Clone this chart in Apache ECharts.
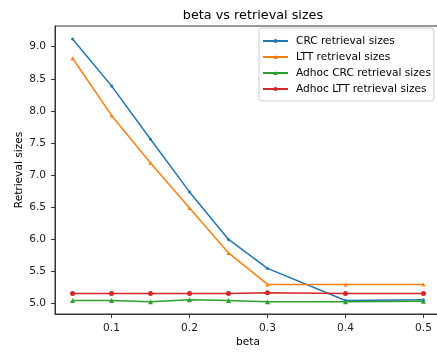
<!DOCTYPE html>
<html>
<head>
<meta charset="utf-8">
<script src="https://cdn.jsdelivr.net/npm/echarts@6/dist/echarts.min.js"></script>
<style>
html,body{margin:0;padding:0;background:#fff;overflow:hidden;width:437px;height:353px;}
#chart{width:445px;height:353px;}
</style>
</head>
<body>
<div id="chart"></div>
<script>
const betas = [0.05, 0.1, 0.15, 0.2, 0.25, 0.3, 0.4, 0.5];
const crcSizes = [9.12, 8.39, 7.56, 6.74, 6.00, 5.55, 5.05, 5.06];
const lttSizes = [8.82, 7.93, 7.19, 6.49, 5.79, 5.30, 5.30, 5.30];
const adhocCrcSizes = [5.05, 5.05, 5.03, 5.06, 5.05, 5.03, 5.03, 5.04];
const adhocLttSizes = [5.16, 5.16, 5.16, 5.16, 5.16, 5.17, 5.16, 5.16];
const xTicks = [0.1, 0.2, 0.3, 0.4, 0.5];
const yTicks = [5.0, 5.5, 6.0, 6.5, 7.0, 7.5, 8.0, 8.5, 9.0];
const seriesNames = ['CRC retrieval sizes', 'LTT retrieval sizes', 'Adhoc CRC retrieval sizes', 'Adhoc LTT retrieval sizes'];
const colors = ['#1f77b4', '#ff7f0e', '#2ca02c', '#d62728'];

const font = 'DejaVu Sans';
const chart = echarts.init(document.getElementById('chart'), null, {renderer: 'canvas'});

function pairs(ys) { return betas.map((b, i) => [b, ys[i]]); }
const allSeries = [crcSizes, lttSizes, adhocCrcSizes, adhocLttSizes];
const symbols = ['circle', 'triangle', 'triangle', 'circle'];
const sizes = [3, 4, 5, 5];

chart.setOption({
  animation: false,
  backgroundColor: '#fff',
  color: colors,
  title: {
    text: 'beta vs retrieval sizes',
    left: 248, top: 4, textAlign: 'center',
    textStyle: {fontFamily: font, fontSize: 12.8, fontWeight: 'normal', color: '#000'}
  },
  legend: {
    orient: 'vertical',
    left: 259, top: 28,
    padding: [7, 3, 6, 3],
    itemWidth: 25, itemHeight: 5, itemGap: 4,
    borderColor: '#ccc', borderWidth: 1, borderRadius: 3,
    backgroundColor: '#fff',
    textStyle: {fontFamily: font, fontSize: 10.6, lineHeight: 12, color: '#000', padding: [0, 0, 0, 3]},
    data: seriesNames
  },
  grid: {left: 55, top: 26, right: 4, bottom: 39, show: true, borderColor: '#333', borderWidth: 1,
    containLabel: false, outerBoundsMode: 'none'},
  xAxis: {
    type: 'value', min: 0.0275, max: 0.5225,
    name: 'beta', nameLocation: 'middle', nameGap: 23, nameMoveOverlap: false,
    nameTextStyle: {fontFamily: font, fontSize: 10.6, color: '#000'},
    axisLine: {show: true, lineStyle: {color: '#333', width: 1}},
    axisTick: {show: true, customValues: xTicks, length: 4, lineStyle: {color: '#333'}},
    axisLabel: {customValues: xTicks, fontFamily: font, fontSize: 10.6, color: '#222', margin: 9,
      formatter: v => (+v).toFixed(1)},
    splitLine: {show: false}
  },
  yAxis: {
    type: 'value', min: 4.84, max: 9.322,
    name: 'Retrieval sizes', nameLocation: 'middle', nameGap: 30, nameRotate: 90, nameMoveOverlap: false,
    nameTextStyle: {fontFamily: font, fontSize: 10.6, color: '#000'},
    axisLine: {show: true, lineStyle: {color: '#333', width: 1}},
    axisTick: {show: true, customValues: yTicks, length: 4, lineStyle: {color: '#333'}},
    axisLabel: {customValues: yTicks, fontFamily: font, fontSize: 10.6, color: '#222', margin: 9,
      formatter: v => (+v).toFixed(1)},
    splitLine: {show: false}
  },
  series: allSeries.map((ys, i) => ({
    name: seriesNames[i],
    type: 'line',
    data: pairs(ys),
    symbol: symbols[i],
    symbolSize: sizes[i],
    showSymbol: true,
    lineStyle: {width: 1.5, color: colors[i]},
    itemStyle: {color: colors[i]},
    emphasis: {disabled: true}
  }))
});
</script>
</body>
</html>
